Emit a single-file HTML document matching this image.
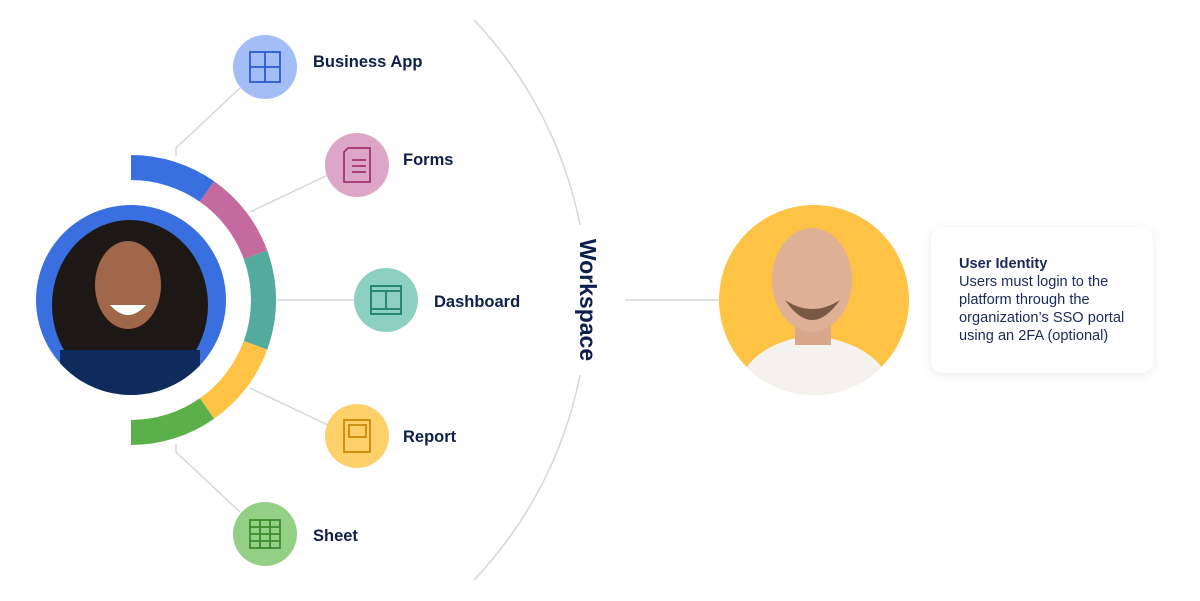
<!DOCTYPE html>
<html><head><meta charset="utf-8"><style>
body{margin:0;background:#fff;width:1200px;height:601px;overflow:hidden;font-family:"Liberation Sans",sans-serif}
svg{position:absolute;left:0;top:0}
.lbl{font-weight:bold;font-size:16.5px;fill:#0f1f4b}
.card{position:absolute;left:931px;top:227px;width:222px;height:146px;background:#fff;border-radius:12px;box-shadow:0 2px 12px rgba(0,0,0,0.08)}
.card div{position:absolute;left:28px;top:28px;font-size:14.6px;line-height:18px;color:#1a2a5a}
</style></head><body>
<svg width="1200" height="601" viewBox="0 0 1200 601">
<g fill="none" stroke="#d6d6d6" stroke-width="1.5">
<path d="M474 20 A414 414 0 0 1 580 225"/>
<path d="M580 375 A414 414 0 0 1 474 580"/>
<path d="M176 156 L176 148 L240 88"/>
<path d="M250 212 L328 175"/>
<path d="M275 300 L355 300"/>
<path d="M250 388 L328 425"/>
<path d="M176 444 L176 452 L240 512"/>
<path d="M625 300 L720 300"/>
</g>
<g fill="none" stroke-width="25">
<path d="M131 167.5 A132.5 132.5 0 0 1 207 191.5" stroke="#3a6fe0"/>
<path d="M207 191.5 A132.5 132.5 0 0 1 255.5 254.7" stroke="#c56a9f"/>
<path d="M255.5 254.7 A132.5 132.5 0 0 1 255.5 345.3" stroke="#52ab9c"/>
<path d="M255.5 345.3 A132.5 132.5 0 0 1 207 408.5" stroke="#fec344"/>
<path d="M207 408.5 A132.5 132.5 0 0 1 131 432.5" stroke="#5bb04a"/>
</g>
<defs><clipPath id="c1"><circle cx="131" cy="300" r="95"/></clipPath><clipPath id="c2"><circle cx="814" cy="300" r="95"/></clipPath></defs>
<g clip-path="url(#c1)">
<rect x="30" y="200" width="200" height="200" fill="#3a6fe0"/>
<ellipse cx="130" cy="305" rx="78" ry="85" fill="#1d1816"/>
<rect x="60" y="350" width="140" height="60" fill="#0f2a5c"/>
<ellipse cx="128" cy="285" rx="33" ry="44" fill="#a0674a"/>
<path d="M110 305 Q128 325 146 305 Z" fill="#fff"/>
</g>
<g clip-path="url(#c2)">
<rect x="715" y="200" width="200" height="200" fill="#fec344"/>
<path d="M735 400 Q740 345 812 335 Q888 345 895 400 Z" fill="#f4f2ee"/>
<rect x="795" y="310" width="36" height="35" fill="#d9a88c"/>
<ellipse cx="812" cy="280" rx="40" ry="52" fill="#deb095"/>
<path d="M785 300 Q812 340 840 300 Q812 318 785 300Z" fill="#7a5a45"/>
</g>
<circle cx="265" cy="67" r="32" fill="#a3bdf7"/>
<circle cx="357" cy="165" r="32" fill="#dda6c6"/>
<circle cx="386" cy="300" r="32" fill="#8dd0c2"/>
<circle cx="357" cy="436" r="32" fill="#fed06a"/>
<circle cx="265" cy="534" r="32" fill="#93cf84"/>
<g fill="none" stroke-width="1.8">
<rect x="250" y="52" width="30" height="30" stroke="#2d5ad0"/>
<path d="M265 52 V82 M250 67 H280" stroke="#2d5ad0"/>
<path d="M348 148 H370 V182 H344 V152 Z" stroke="#a3336f"/>
<path d="M352 160 H366 M352 166 H366 M352 172 H366" stroke="#a3336f"/>
<rect x="371" y="286" width="30" height="28" stroke="#1f7f6b"/>
<path d="M371 291 H401 M371 309 H401 M386 291 V309" stroke="#1f7f6b"/>
<rect x="344" y="420" width="26" height="32" stroke="#c98a08"/>
<rect x="349" y="425" width="17" height="12" stroke="#c98a08"/>
<rect x="250" y="520" width="30" height="28" stroke="#3b8b2c"/>
<path d="M250 527 H280 M250 534 H280 M250 541 H280 M260 520 V548 M270 520 V548" stroke="#3b8b2c"/>
</g>
<text class="lbl" x="313" y="67">Business App</text>
<text class="lbl" x="403" y="165">Forms</text>
<text class="lbl" x="434" y="307">Dashboard</text>
<text class="lbl" x="403" y="442">Report</text>
<text class="lbl" x="313" y="541">Sheet</text>
<text transform="translate(580,300) rotate(90)" text-anchor="middle" font-weight="bold" font-size="23" fill="#0f1f4b">Workspace</text>
</svg>
<div class="card"><div><b>User Identity</b><br>Users must login to the<br>platform through the<br>organization’s SSO portal<br>using an 2FA (optional)</div></div>
</body></html>
